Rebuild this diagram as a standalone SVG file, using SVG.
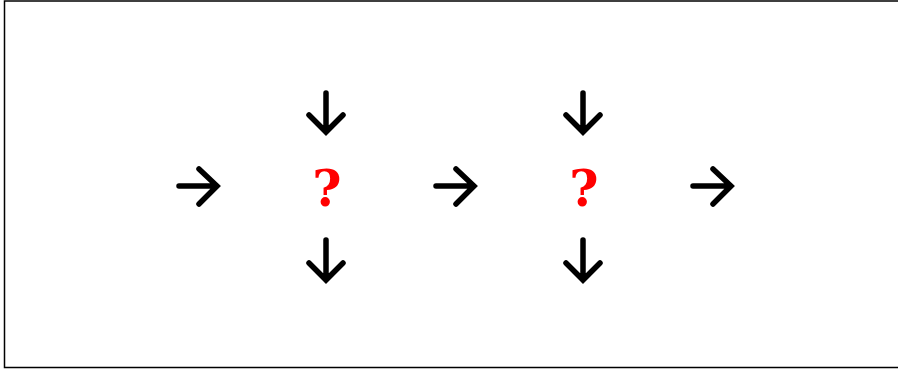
<svg xmlns="http://www.w3.org/2000/svg" width="898" height="369" viewBox="0 0 898 369">
<style>
.a{fill:none;stroke:#000;stroke-width:5.5;stroke-linecap:round;stroke-linejoin:miter}
.q{font-family:"DejaVu Serif",serif;font-weight:bold;font-size:50px;fill:#ff0000;text-anchor:middle}
</style>
<rect x="4.5" y="1" width="900" height="366.5" fill="#fff" stroke="#000" stroke-width="1.5"/>
<g id="connectors">
<g id="r1"><path class="a" d="M179 186H216M199 169L217 186L199 204"/></g>
<g id="r2"><path class="a" d="M436 186H473M456 169L474 186L456 204"/></g>
<g id="r3"><path class="a" d="M693 186H730M713 169L731 186L713 204"/></g>
<g id="d1"><path class="a" d="M326 93V131M309 115L326 132L343 115"/></g>
<g id="d2"><path class="a" d="M326 240V279M309 263L326 280L343 263"/></g>
<g id="d3"><path class="a" d="M583 93V131M566 115L583 132L600 115"/></g>
<g id="d4"><path class="a" d="M583 240V279M566 263L583 280L600 263"/></g>
</g>
<g id="q1"><text class="q" x="327" y="206">?</text></g>
<g id="q2"><text class="q" x="584" y="206">?</text></g>
</svg>
